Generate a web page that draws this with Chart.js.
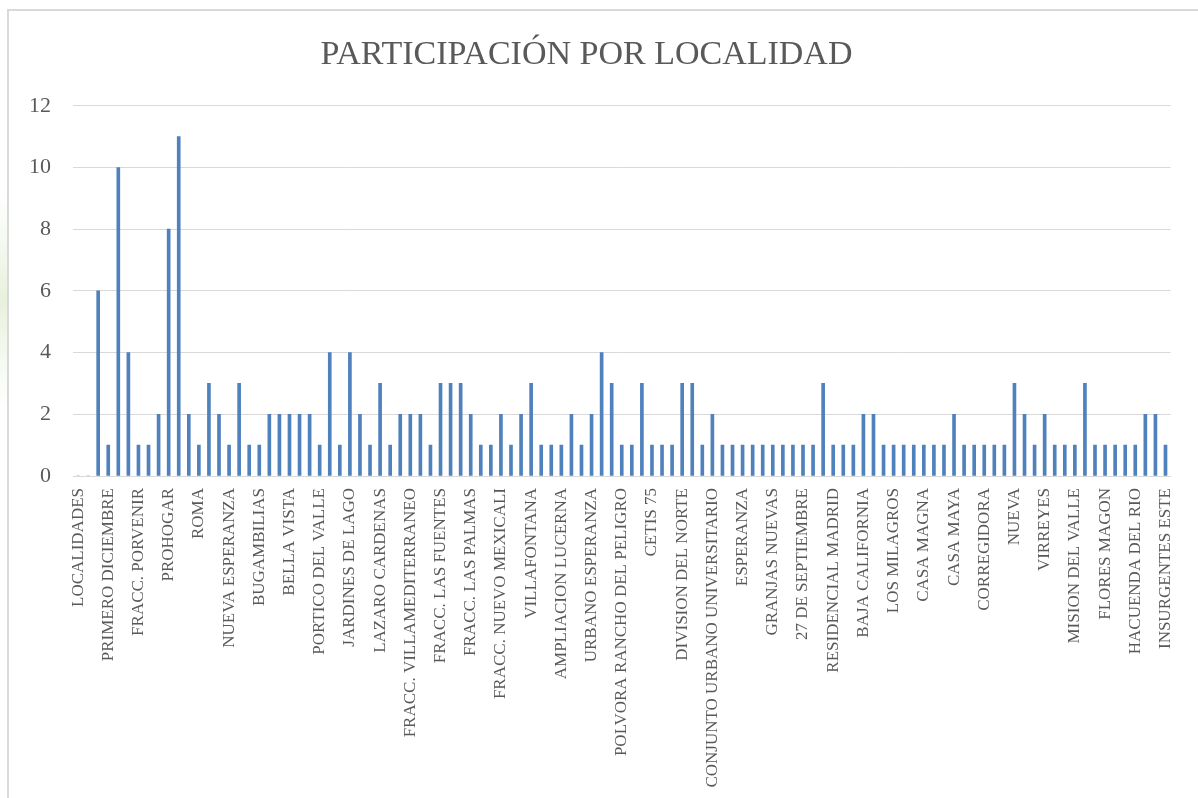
<!DOCTYPE html>
<html>
<head>
<meta charset="utf-8">
<script src="https://cdn.jsdelivr.net/npm/chart.js@4/dist/chart.umd.min.js"></script>
<style>
  html, body { margin: 0; padding: 0; background: #fff; overflow: hidden; }
  body {
    width: 1198px; height: 798px; position: relative;
    background: radial-gradient(ellipse at 0px 300px, #e8f1dc 0, #f3f8ee 120px, #fff 260px);
  }
  #frame {
    position: absolute; left: 7px; top: 9px; width: 1300px; height: 900px;
    border: 2px solid #d9d9d9; background: #fff;
  }
  #wrap { position: absolute; left: 0; top: 0; width: 1198px; height: 798px; }
</style>
</head>
<body>
<div id="frame"></div>
<div id="wrap"><canvas id="chart" width="1198" height="798"></canvas></div>
<script>
// ============================================================
// DATOS
// ============================================================
const chartTitle = 'PARTICIPACIÓN POR LOCALIDAD';

// etiquetas visibles (una de cada tres categorías)
const visibleLabels = [
    'LOCALIDADES', 'PRIMERO DICIEMBRE', 'FRACC. PORVENIR', 'PROHOGAR', 'ROMA',
    'NUEVA ESPERANZA', 'BUGAMBILIAS', 'BELLA VISTA', 'PORTICO DEL VALLE',
    'JARDINES DE LAGO', 'LAZARO CARDENAS', 'FRACC. VILLAMEDITERRANEO',
    'FRACC. LAS FUENTES', 'FRACC. LAS PALMAS', 'FRACC. NUEVO MEXICALI',
    'VILLAFONTANA', 'AMPLIACION LUCERNA', 'URBANO ESPERANZA',
    'POLVORA RANCHO DEL PELIGRO', 'CETIS 75', 'DIVISION DEL NORTE',
    'CONJUNTO URBANO UNIVERSITARIO', 'ESPERANZA', 'GRANJAS NUEVAS',
    '27 DE SEPTIEMBRE', 'RESIDENCIAL MADRID', 'BAJA CALIFORNIA', 'LOS MILAGROS',
    'CASA MAGNA', 'CASA MAYA', 'CORREGIDORA', 'NUEVA', 'VIRREYES',
    'MISION DEL VALLE', 'FLORES MAGON', 'HACUENDA DEL RIO', 'INSURGENTES ESTE'
];
const labelStep = 3;

// participantes por localidad (109 categorías)
const participacion = [
    0, 0, 6, 1, 10, 4, 1, 1, 2, 8,
    11, 2, 1, 3, 2, 1, 3, 1, 1, 2,
    2, 2, 2, 2, 1, 4, 1, 4, 2, 1,
    3, 1, 2, 2, 2, 1, 3, 3, 3, 2,
    1, 1, 2, 1, 2, 3, 1, 1, 1, 2,
    1, 2, 4, 3, 1, 1, 3, 1, 1, 1,
    3, 3, 1, 2, 1, 1, 1, 1, 1, 1,
    1, 1, 1, 1, 3, 1, 1, 1, 2, 2,
    1, 1, 1, 1, 1, 1, 1, 2, 1, 1,
    1, 1, 1, 3, 2, 1, 2, 1, 1, 1,
    3, 1, 1, 1, 1, 1, 2, 2, 1
];

const yTicks = [0, 2, 4, 6, 8, 10, 12];

// categorías: solo se conocen los nombres visibles
const categorias = participacion.map((v, i) =>
    i % labelStep === 0 ? (visibleLabels[i / labelStep] || '') : '');

// ============================================================
// CHART
// ============================================================
const gray = '#595959';
const gridColor = '#d9d9d9';
const serif = "'Liberation Serif', 'DejaVu Serif', serif";

new Chart(document.getElementById('chart'), {
    type: 'bar',
    data: {
        labels: categorias,
        datasets: [{
            label: 'Participación',
            data: participacion,
            backgroundColor: '#4F81BD',
            borderWidth: 0,
            barThickness: 3
        }]
    },
    options: {
        responsive: false,
        animation: false,
        layout: { padding: { left: 0, right: 25, top: 35, bottom: 0 } },
        plugins: {
            legend: { display: false },
            tooltip: { enabled: false },
            title: {
                display: true,
                text: chartTitle,
                color: gray,
                font: { family: serif, size: 34, weight: 'normal' },
                padding: { top: 0, bottom: 30 }
            }
        },
        scales: {
            x: {
                grid: { display: false, drawTicks: false },
                border: { color: gridColor, width: 1 },
                ticks: {
                    autoSkip: false,
                    minRotation: 90,
                    maxRotation: 90,
                    padding: 12,
                    color: gray,
                    font: { family: serif, size: 17 }
                },
                afterFit: (scale) => { scale.height = 322; }
            },
            y: {
                min: 0,
                max: 12,
                afterBuildTicks: (scale) => { scale.ticks = yTicks.map(v => ({ value: v })); },
                grid: { color: gridColor, lineWidth: 1, drawTicks: false },
                border: { display: false },
                ticks: {
                    padding: 22,
                    color: gray,
                    font: { family: serif, size: 22 }
                },
                afterFit: (scale) => { scale.width = 73; }
            }
        }
    }
});
</script>
</body>
</html>
